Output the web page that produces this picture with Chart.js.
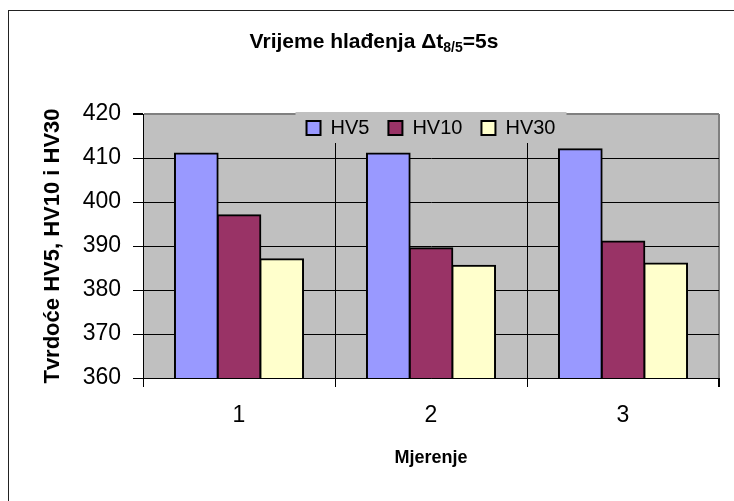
<!DOCTYPE html>
<html lang="hr">
<head>
  <meta charset="UTF-8">
  <title>Vrijeme hlađenja Δt8/5=5s</title>
  <script src="https://cdn.jsdelivr.net/npm/chart.js"></script>
  <style>
    body { margin: 0; background: #fff; overflow: hidden; }
    .frame {
      position: absolute; left: 8px; top: 10px; width: 800px; height: 560px;
      border-left: 1px solid #222; border-top: 1px solid #222;
    }
    .chart-title {
      position: absolute; left: 0; top: 29px; width: 748px;
      text-align: center; line-height: 24px;
      font: bold 21px "Liberation Sans", Arial, sans-serif; color: #000;
    }
    .chart-title sub { font-size: 14px; line-height: 0; vertical-align: -4px; }
    canvas { position: absolute; left: 0; top: 0; }
  </style>
</head>
<body>

  <div class="frame"></div>
  <canvas id="hardnessChart" width="734" height="501"></canvas>
  <div class="chart-title">Vrijeme hlađenja Δt<sub>8/5</sub>=5s</div>

  <script>
    const categories = ['1', '2', '3'];
    const seriesNames = ['HV5', 'HV10', 'HV30'];
    const hv5 = [411, 411, 412];
    const hv10 = [397, 389.5, 391];
    const hv30 = [387, 385.5, 386];
    const yTicks = [360, 370, 380, 390, 400, 410, 420];

    const FONT = '"Liberation Sans", Arial, sans-serif';
    const PLOT_GREY = '#C0C0C0';

    // grey plot background, painted before the grid
    const plotBackground = {
      id: 'plotBackground',
      beforeDraw(chart) {
        const { ctx, chartArea: a } = chart;
        ctx.save();
        ctx.fillStyle = PLOT_GREY;
        ctx.fillRect(a.left, a.top, a.right - a.left, a.bottom - a.top);
        ctx.restore();
      }
    };

    // legend sits inside the top of the plot on its own grey patch
    const legendInPlot = {
      id: 'legendInPlot',
      afterLayout(chart) {
        const legend = chart.legend;
        const a = chart.chartArea;
        legend.left = a.left;
        legend.right = a.right;
        legend.top = 99;
        legend.bottom = legend.top + legend.height;

        if (!legend._patched) {
          legend._patched = true;
          const draw = legend.draw.bind(legend);
          legend.draw = (area) => {
            const pad = legend.options.labels.padding;
            const x0 = (legend.left + pad + legend.right - legend.lineWidths[0]) / 2;
            const x1 = x0 + legend.lineWidths[0] - pad;
            const ctx = chart.ctx;
            ctx.save();
            ctx.fillStyle = PLOT_GREY;
            ctx.fillRect(x0 - 11, chart.chartArea.top - 2, x1 - x0 + 22, 31);
            ctx.restore();
            draw(area);
          };
        }
      }
    };

    const ctx = document.getElementById('hardnessChart');

    // outlines straddle the bar edges, so neighbouring bars share one line
    const barStyle = { borderColor: '#000', borderWidth: 2, borderSkipped: false, inflateAmount: 1 };

    const chart = new Chart(ctx, {
      type: 'bar',
      data: {
        labels: categories,
        datasets: [
          { label: seriesNames[0], data: hv5, backgroundColor: '#9999FF', ...barStyle },
          { label: seriesNames[1], data: hv10, backgroundColor: '#993366', ...barStyle },
          { label: seriesNames[2], data: hv30, backgroundColor: '#FFFFCC', ...barStyle }
        ]
      },
      options: {
        responsive: false,
        animation: false,
        events: [],
        layout: { padding: { top: 65, right: 15, bottom: 0, left: 0 } },
        datasets: {
          bar: { categoryPercentage: 0.667, barPercentage: 1 }
        },
        scales: {
          x: {
            afterFit(scale) { scale.height = 123; },
            grid: {
              offset: true,
              color: c => (c.index === undefined ? '#808080' : '#000'),
              lineWidth: c => (c.index === undefined ? 2 : 1),
              tickColor: '#000',
              tickLength: 9
            },
            border: { color: '#000', width: 1 },
            ticks: { color: '#000', padding: 15, font: { family: FONT, size: 23 } },
            title: {
              display: true,
              text: 'Mjerenje',
              color: '#000',
              font: { family: FONT, size: 18, weight: 'bold' },
              padding: { top: 0, bottom: 32 }
            }
          },
          y: {
            min: yTicks[0],
            max: yTicks[yTicks.length - 1],
            afterFit(scale) { scale.width = 143; },
            afterBuildTicks(scale) { scale.ticks = yTicks.map(v => ({ value: v })); },
            grid: {
              color: c => (c.tick && c.tick.value === yTicks[yTicks.length - 1] ? '#808080' : '#000'),
              lineWidth: c => (c.tick && c.tick.value === yTicks[yTicks.length - 1] ? 2 : 1),
              tickColor: '#000',
              tickLength: 10
            },
            border: { color: '#000', width: 1 },
            ticks: { color: '#000', padding: 12, font: { family: FONT, size: 23 } },
            title: {
              display: true,
              text: 'Tvrdoće HV5, HV10 i HV30',
              color: '#000',
              font: { family: FONT, size: 22, weight: 'bold' },
              padding: { top: 40, bottom: 0 }
            }
          }
        },
        plugins: {
          title: { display: false },
          tooltip: { enabled: false },
          legend: {
            position: 'top',
            align: 'center',
            labels: {
              color: '#000',
              boxWidth: 14,
              boxHeight: 14,
              padding: 19,
              font: { family: FONT, size: 20 }
            }
          }
        }
      },
      plugins: [plotBackground, legendInPlot]
    });
  </script>

</body>
</html>
